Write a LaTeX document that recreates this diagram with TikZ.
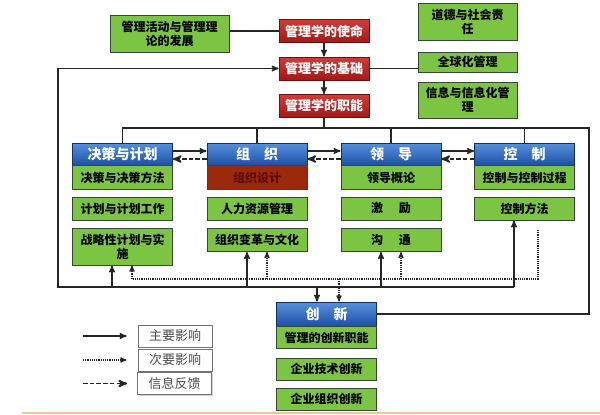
\documentclass[tikz,border=0pt]{standalone}
\usepackage{fontspec}
\setmainfont{Noto Sans CJK SC}
\usetikzlibrary{arrows,shadows}

\definecolor{gfill}{RGB}{124,197,66}
\definecolor{gline}{RGB}{55,70,55}
\definecolor{rtop}{RGB}{210,60,55}
\definecolor{rbot}{RGB}{160,25,25}
\definecolor{btop}{RGB}{85,145,220}
\definecolor{bbot}{RGB}{30,80,165}
\definecolor{brn}{RGB}{155,42,12}
\definecolor{brntxt}{RGB}{95,12,5}
\definecolor{tanline}{RGB}{236,200,160}

\tikzstyle{gb} = [rectangle, draw=gline, fill=gfill, line width=1pt, align=center,
    minimum width=100pt, minimum height=23pt, inner sep=1pt,
    font=\bfseries\fontsize{12}{14}\selectfont]
\tikzstyle{rb} = [rectangle, draw=rbot!70!black, top color=rtop, bottom color=rbot,
    text=white, line width=0.8pt, minimum width=90pt, minimum height=23pt,
    font=\bfseries\fontsize{13}{15}\selectfont]
\tikzstyle{hb} = [rectangle, draw=bbot!60!black, top color=btop, bottom color=bbot,
    text=white, line width=0.8pt, minimum width=100pt, minimum height=22pt,
    font=\bfseries\fontsize{14}{16}\selectfont]
\tikzstyle{lb} = [rectangle, draw=black!55, fill=white, line width=0.8pt,
    minimum width=74pt, minimum height=22pt, text=black!70,
    drop shadow={shadow xshift=1.2pt, shadow yshift=-1.2pt, opacity=0.35},
    font=\fontsize{13}{15}\selectfont]
\tikzstyle{main} = [line width=1.4pt, black!85]
\tikzstyle{sub} = [dash pattern=on 1.2pt off 1pt, line width=1.2pt, black!85]
\tikzstyle{fb} = [dash pattern=on 4.5pt off 2.2pt, line width=1.9pt, black!85]

\begin{document}
\begin{tikzpicture}[x=1pt,y=-1pt,->,>=stealth']
  \useasboundingbox (0,0) rectangle (600,415);

  % top part
  \node[gb, minimum width=119pt, minimum height=37pt] (dev) at (169.5,33.5) {管理活动与管理理\\论的发展};
  \node[rb] (mis) at (324,31)   {管理学的使命};
  \node[rb] (bas) at (324,68.5) {管理学的基础};
  \node[rb] (fun) at (324,106)  {管理学的职能};
  \node[gb, minimum width=99pt, minimum height=37pt] (eth) at (467.5,21.5) {道德与社会责\\任};
  \node[gb, minimum width=99pt, minimum height=20pt] (glo) at (467.5,62)   {全球化管理};
  \node[gb, minimum width=99pt, minimum height=36pt] (inf) at (467.5,100)  {信息与信息化管\\理};

  % four functions
  \node[hb] (pln) at (122.5,154) {决策与计划};
  \node[hb] (org) at (257,154)   {组\quad 织};
  \node[hb] (led) at (391,154)   {领\quad 导};
  \node[hb] (ctl) at (524.5,154) {控\quad 制};

  \node[gb, anchor=north, minimum height=24pt] (p1) at (pln.south) {决策与决策方法};
  \node[gb] (p2) at (122.5,208.5) {计划与计划工作};
  \node[gb, minimum height=37pt] (p3) at (122.5,246.5) {战略性计划与实\\施};
  \node[gb, anchor=north, minimum height=24pt, fill=brn, text=brntxt] (o1) at (org.south) {组织设计};
  \node[gb] (o2) at (257,208.5) {人力资源管理};
  \node[gb] (o3) at (257,240)   {组织变革与文化};
  \node[gb, anchor=north, minimum height=24pt] (l1) at (led.south) {领导概论};
  \node[gb] (l2) at (391,208.5) {激\hspace{1.3em}励};
  \node[gb] (l3) at (391,240)   {沟\hspace{1.3em}通};
  \node[gb, anchor=north, minimum height=24pt] (c1) at (ctl.south) {控制与控制过程};
  \node[gb] (c2) at (524.5,208.5) {控制方法};

  % innovation
  \node[hb, minimum height=24pt] (inn) at (326.5,314) {创\quad 新};
  \node[gb, anchor=north, minimum height=22pt] (i1) at (inn.south) {管理的创新职能};
  \node[gb, minimum height=22pt] (i2) at (326.5,369) {企业技术创新};
  \node[gb, minimum height=22pt] (i3) at (326.5,399) {企业组织创新};

  % legend
  \node[lb] (k1) at (175,336)   {主要影响};
  \node[lb] (k2) at (175,360)   {次要影响};
  \node[lb] (k3) at (174.5,383.5) {信息反馈};
  \coordinate (k1a) at (83,336);
  \coordinate (k2a) at (83,360);
  \coordinate (k3a) at (83,383.5);

  \coordinate (rt) at (589,128);
  \coordinate (sL) at (58,287);
  \coordinate (s1) at (112,287);
  \coordinate (s2) at (247,287);
  \coordinate (s3) at (381,287);
  \coordinate (s4) at (514,287);
  \coordinate (s5) at (317,287);
  \coordinate (dT) at (538,230);
  \coordinate (dR) at (538,279);
  \coordinate (d1) at (132,279);
  \coordinate (d2) at (267,279);
  \coordinate (d3) at (401,279);
  \coordinate (d5) at (339,279);

  \draw[main,-] (mis.west) -- (mis.west -| dev.east);
  \draw[main,-] (bas.east) -- (bas.east -| glo.west);
  \draw[main] (mis) -- (bas);
  \draw[main] (bas) -- (fun);

  \draw[main,-] (inn.east) -| (rt) -- (rt -| pln.north) -- (pln.north);
  \draw[main,-] (fun.south) -- (fun.south |- rt);
  \foreach \n in {org,led,ctl}
    \draw[main,-] (\n.north) -- (\n.north |- rt);

  \foreach \a/\b in {pln/org,org/led,led/ctl}{
    \draw[main] ([yshift=3pt]\a.east) -- ([yshift=3pt]\b.west);
    \draw[fb] ([yshift=-5pt]\b.west) -- ([yshift=-5pt]\a.east);
  }

  \draw[main] (s4) -- (sL) |- (bas.west);
  \foreach \s/\n in {s1/p3,s2/o3,s3/l3,s4/c2}
    \draw[main] (\s) -- (\s |- \n.south);
  \draw[main] (s5) -- (s5 |- inn.north);

  \draw[sub,-] (dT) -- (dR) -- (d1);
  \foreach \d/\n in {d1/p3,d2/o3,d3/l3}
    \draw[sub] (\d) -- (\d |- \n.south);
  \draw[sub] (d5) -- (d5 |- inn.north);

  \draw[main] (k1a) -- ([xshift=-11pt]k1.west);
  \draw[sub]  (k2a) -- ([xshift=-11pt]k2.west);
  \draw[fb]   (k3a) -- ([xshift=-10pt]k3.west);

  \draw[-, tanline, line width=2pt] (22,413) -- (600,413);
\end{tikzpicture}
\end{document}
